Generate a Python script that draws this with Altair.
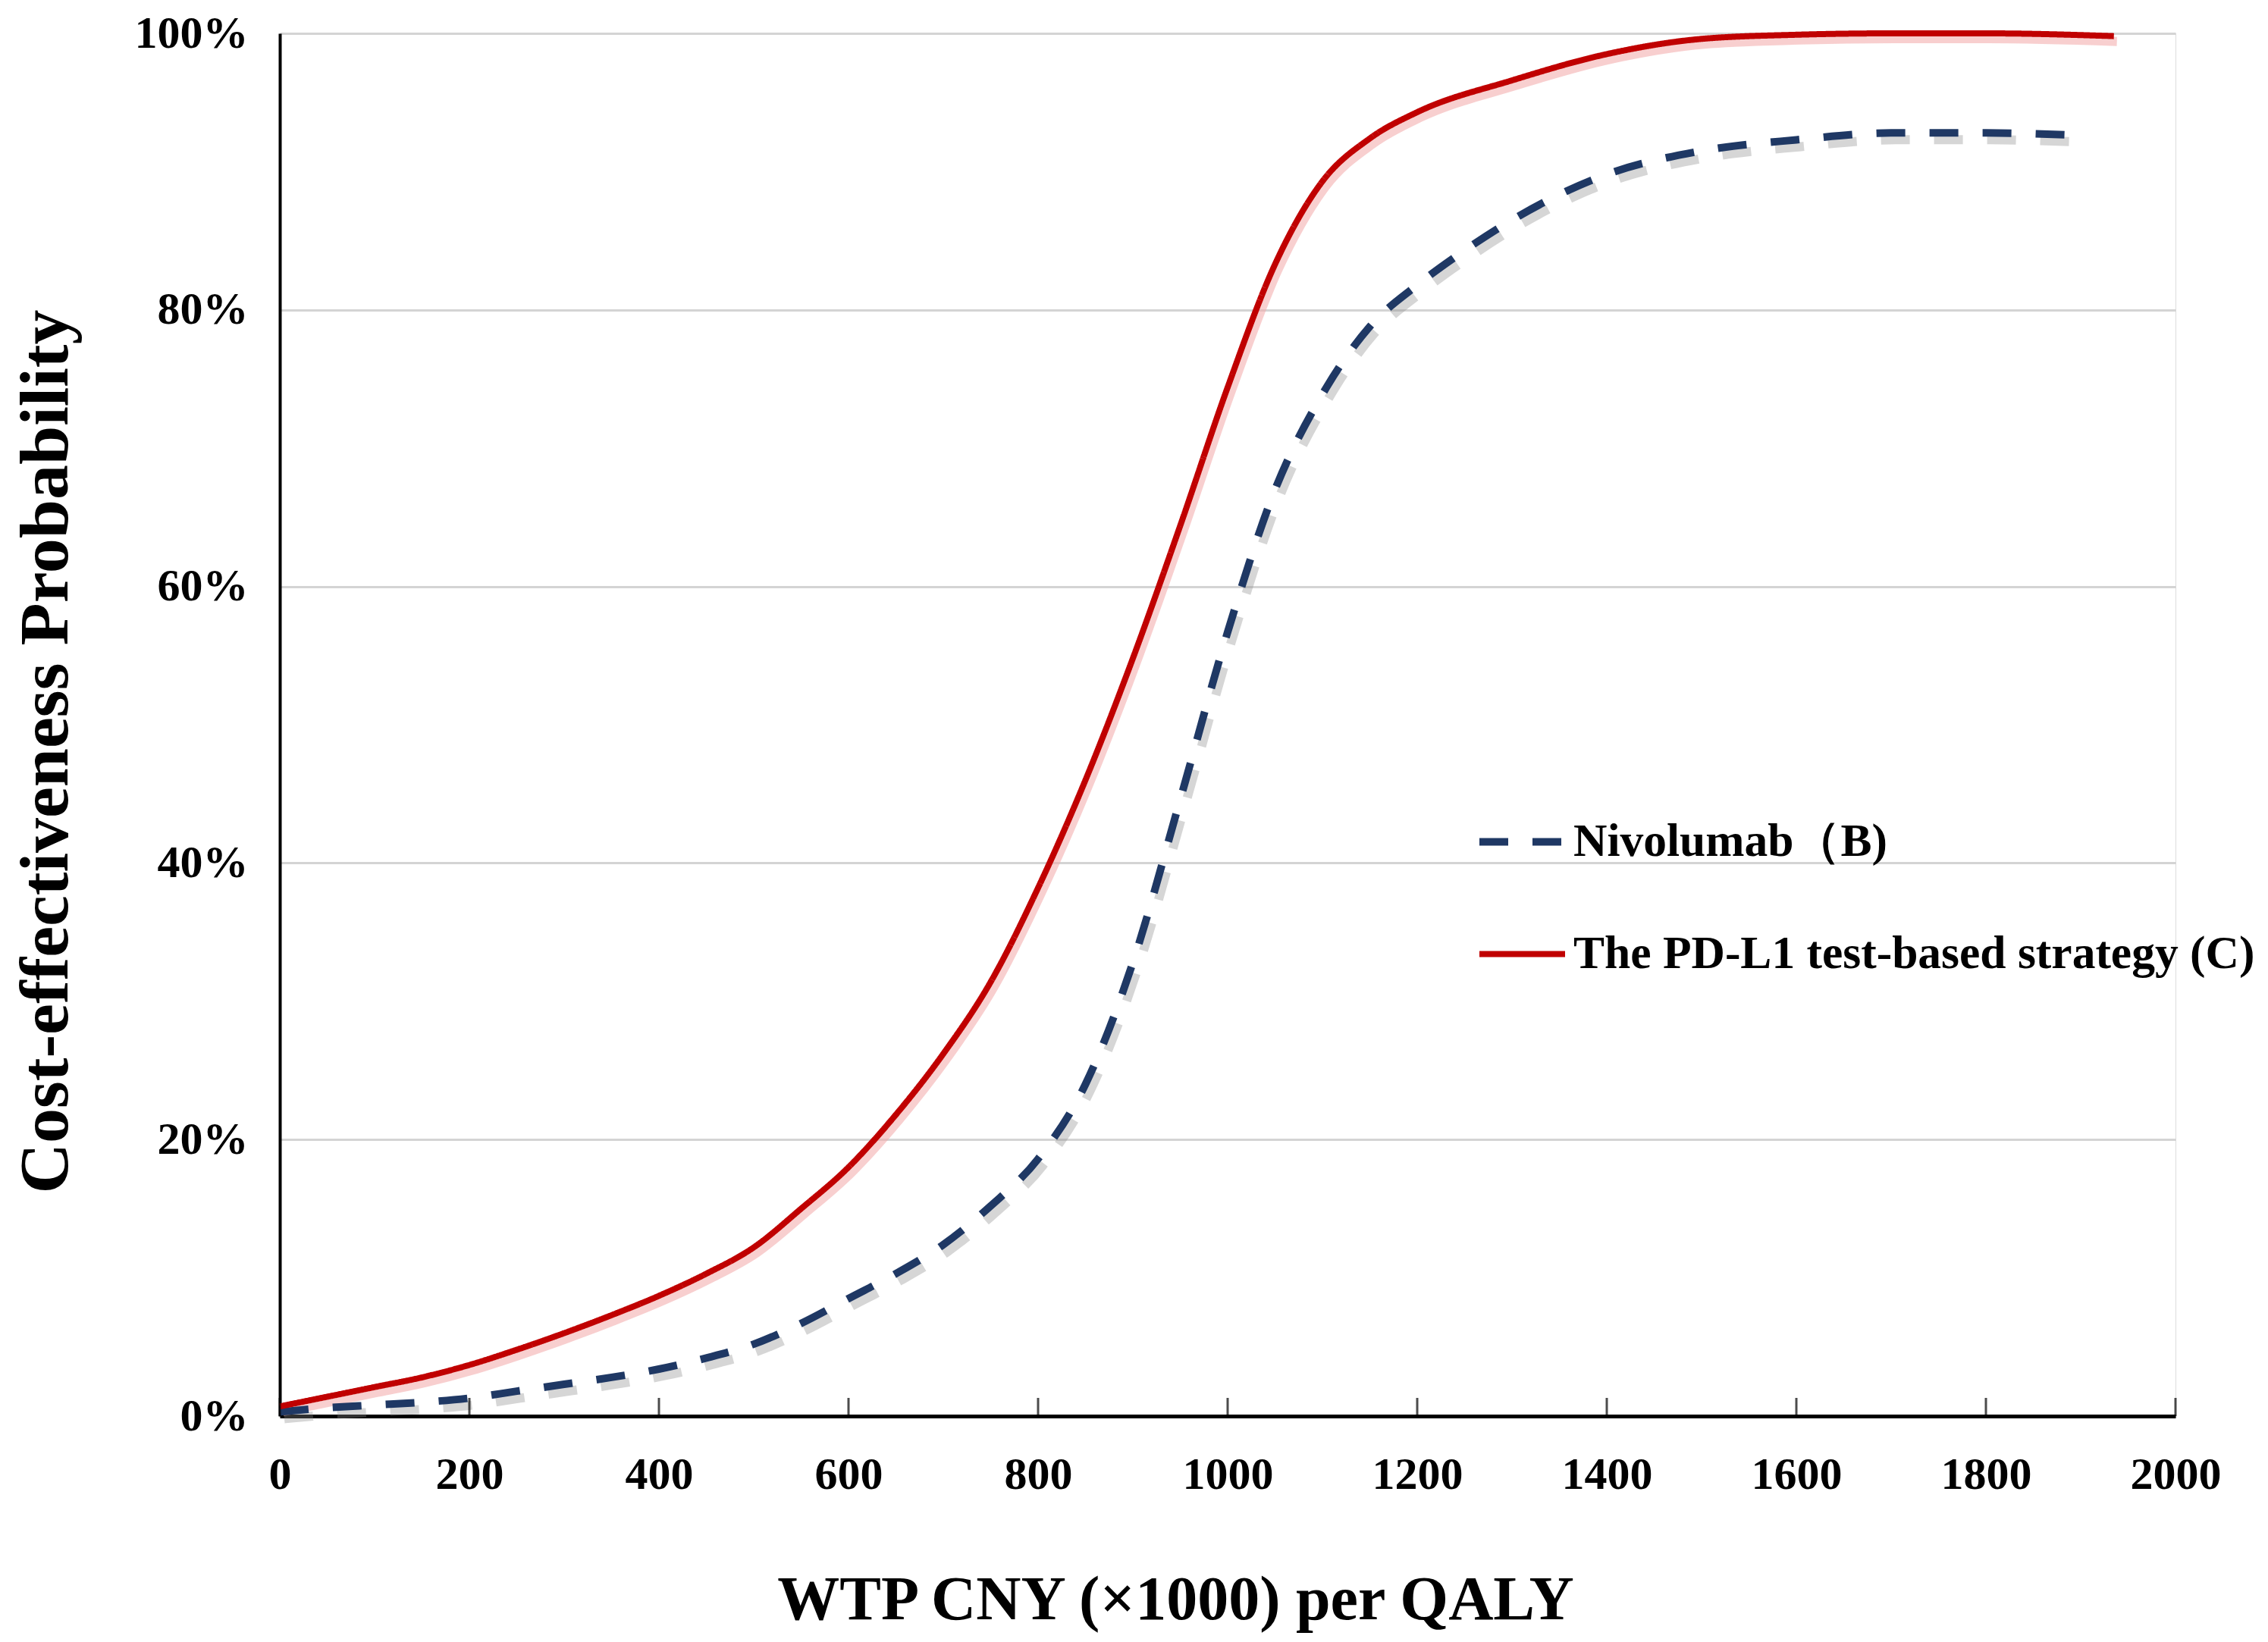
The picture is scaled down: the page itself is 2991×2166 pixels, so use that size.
import altair as alt
import pandas as pd

# ---- data ----
series_names = ["Nivolumab（B)", "The PD-L1 test-based strategy (C)"]
series_colors = ["#1F3864", "#C00000"]

wtp_b = [0, 50, 100, 150, 200, 250, 300, 350, 400, 450, 500, 550, 600, 650, 700,
         750, 800, 850, 900, 950, 1000, 1050, 1100, 1150, 1200, 1250, 1300, 1400,
         1500, 1600, 1700, 1800, 1905]
prob_b = [0.3, 0.6, 0.8, 1.0, 1.3, 1.8, 2.3, 2.8, 3.4, 4.2, 5.2, 6.7, 8.5, 10.3, 12.4,
          15.2, 18.6, 24.0, 32.8, 44.6, 56.7, 67.0, 73.9, 78.8, 81.8, 84.3, 86.5, 89.8,
          91.5, 92.3, 92.8, 92.8, 92.6]

wtp_c = [0, 50, 100, 150, 200, 250, 300, 350, 400, 450, 500, 550, 600, 650, 700,
         750, 800, 850, 900, 950, 1000, 1050, 1100, 1150, 1200, 1300, 1400, 1500,
         1600, 1700, 1800, 1935]
prob_c = [0.7, 1.4, 2.1, 2.8, 3.7, 4.8, 6.0, 7.3, 8.7, 10.3, 12.2, 15.0, 18.0, 21.8, 26.2,
          31.4, 38.2, 46.0, 54.8, 64.4, 74.4, 83.3, 89.3, 92.4, 94.3, 96.6, 98.5, 99.6,
          99.9, 100.0, 100.0, 99.8]

x_ticks = [0, 200, 400, 600, 800, 1000, 1200, 1400, 1600, 1800, 2000]
y_ticks = [0, 20, 40, 60, 80, 100]

FONT = "Liberation Serif"

df_b = pd.DataFrame({"wtp": wtp_b, "prob": prob_b, "Strategy": series_names[0]})
df_c = pd.DataFrame({"wtp": wtp_c, "prob": prob_c, "Strategy": series_names[1]})
df = pd.concat([df_b, df_c], ignore_index=True)
df_ticks = pd.DataFrame({"wtp": x_ticks, "prob": [0] * len(x_ticks)})

x_scale = alt.Scale(domain=[0, 2000], nice=False, zero=False)
y_scale = alt.Scale(domain=[0, 100], nice=False)

x_axis = alt.Axis(
    title="WTP CNY (×1000) per QALY",
    values=x_ticks, format="d", grid=False, ticks=False, tickSize=0,
    labelFont=FONT, labelFontSize=60, labelFontWeight="bold", labelColor="black",
    labelPadding=48, titleFont=FONT, titleFontSize=82, titleFontWeight="bold",
    titleColor="black", titlePadding=95, titleX=1181, domainColor="black", domainWidth=5,
    labelFlush=False,
)
y_axis = alt.Axis(
    title="Cost-effectiveness Probability",
    values=y_ticks, labelExpr="datum.value + '%'", grid=True, gridColor="#D4D4D4",
    gridWidth=3, ticks=False, tickSize=0,
    labelFont=FONT, labelFontSize=60, labelFontWeight="bold", labelColor="black",
    labelPadding=42, titleFont=FONT, titleFontSize=92, titleFontWeight="bold",
    titleColor="black", titlePadding=70, titleY=947, domainColor="black", domainWidth=4,
    labelFlush=False,
)

legend = alt.Legend(
    title=None, orient="none", legendX=1577, legendY=1005,
    labelFont=FONT, labelFontSize=61.5, labelFontWeight="bold", labelColor="black",
    symbolType="stroke", symbolSize=12769, symbolStrokeWidth=8,
    rowPadding=57, labelOffset=6, labelLimit=2000,
)

color_enc = alt.Color("Strategy:N", scale=alt.Scale(domain=series_names, range=series_colors),
                      legend=legend)
dash_enc = alt.StrokeDash("Strategy:N",
                          scale=alt.Scale(domain=series_names, range=[[38, 32], [1, 0]]),
                          legend=legend)

base_x = alt.X("wtp:Q", scale=x_scale, axis=x_axis)
base_y = alt.Y("prob:Q", scale=y_scale, axis=y_axis)

shadow_b = alt.Chart(df_b).mark_line(
    interpolate="monotone", color="#8A8A8A", opacity=0.35, strokeWidth=12,
    strokeDash=[38, 32], xOffset=6, yOffset=9,
).encode(x=alt.X("wtp:Q", scale=x_scale), y=alt.Y("prob:Q", scale=y_scale))

shadow_c = alt.Chart(df_c).mark_line(
    interpolate="monotone", color="#F2A7A7", opacity=0.55, strokeWidth=12,
    xOffset=4, yOffset=7,
).encode(x=alt.X("wtp:Q", scale=x_scale), y=alt.Y("prob:Q", scale=y_scale))

lines = alt.Chart(df).mark_line(interpolate="monotone", strokeCap="butt").encode(
    x=base_x, y=base_y, color=color_enc, strokeDash=dash_enc,
    strokeWidth=alt.StrokeWidth("Strategy:N",
                                scale=alt.Scale(domain=series_names, range=[10, 8]),
                                legend=None),
)

ticks = alt.Chart(df_ticks).mark_tick(
    orient="vertical", color="black", size=24, thickness=3, yOffset=-12,
).encode(x=alt.X("wtp:Q", scale=x_scale), y=alt.Y("prob:Q", scale=y_scale))

chart = alt.layer(shadow_c, shadow_b, lines, ticks).properties(
    width=2500, height=1824,
    autosize=alt.AutoSizeParams(type="none"),
    padding={"left": 361, "top": 36, "right": 112, "bottom": 286},
).configure_view(stroke=None).configure(background="white")

chart.save("out.html", embed_options={"renderer": "svg", "actions": False})
